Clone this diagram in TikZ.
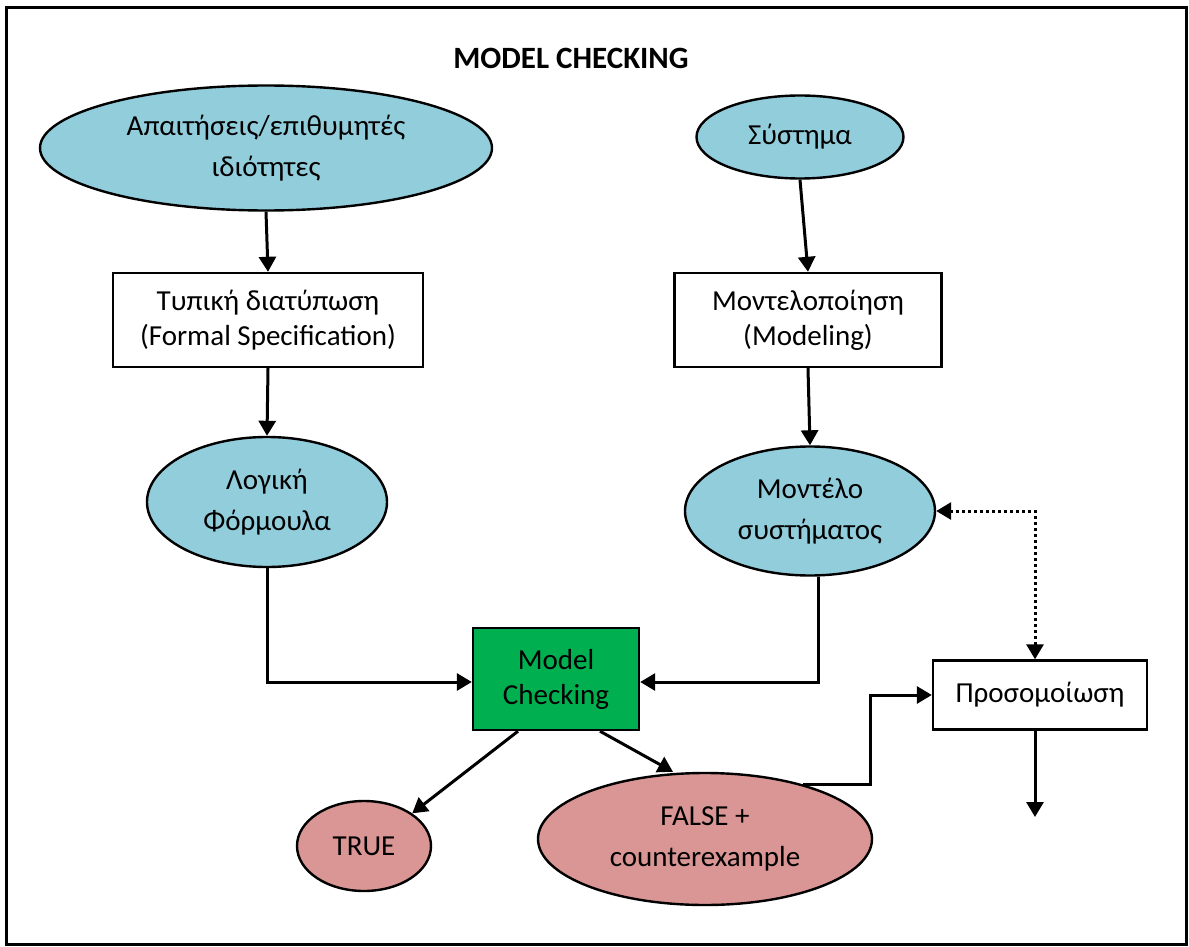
\documentclass[tikz,border=0pt]{standalone}
\usepackage{fontspec}
\setmainfont{Carlito}
\usepackage{xcolor}
\usetikzlibrary {arrows.meta,shapes.geometric}
\definecolor{skyfill}{HTML}{92CDDC}
\definecolor{rosefill}{HTML}{D99694}
\definecolor{mcgreen}{HTML}{00B050}
\newcommand{\ovalfont}{\fontsize{14.5}{20.5}\selectfont}
\newcommand{\boxfont}{\fontsize{14.5}{17.5}\selectfont}
\newcommand{\headfont}{\fontsize{15.5}{18}\selectfont\bfseries}
\tikzset{%
   oval/.style={
      ellipse,
      draw=black,
      line width=1.2pt,
      inner sep=0pt,
      align=center,
      font=\ovalfont
   },
   blue/.style={
      oval,
      fill=skyfill
   },
   rose/.style={
      oval,
      fill=rosefill
   },
   pbox/.style={
      rectangle,
      draw=black,
      line width=1.2pt,
      inner sep=0pt,
      align=center,
      font=\boxfont
   },
   arr/.style={
      line width=1.5pt,
      -{Triangle[length=7.5pt,width=8.5pt]}
   },
   dotarr/.style={
      line width=1.5pt,
      dash pattern=on 1.5pt off 1.5pt,
      {Triangle[length=7.5pt,width=8.5pt]}-{Triangle[length=7.5pt,width=8.5pt]}
   },
}
\begin{document}
\begin{tikzpicture}[x=0.5pt, y=-0.5pt]
   \useasboundingbox (0,0) rectangle (1189,947);
   \draw[line width=1.5pt] (6,8) rectangle (1186,944);
   \node[font=\headfont] (head) at (571,58) {MODEL CHECKING};
   % left column
   \node[blue, minimum width=226pt, minimum height=62.5pt] (req) at (266,148) {Απαιτήσεις/επιθυμητές\\ιδιότητες};
   \node[pbox, minimum width=155pt, minimum height=47pt] (spec) at (268,320) {Τυπική διατύπωση\\(Formal Specification)};
   \node[blue, minimum width=120pt, minimum height=65pt] (logic) at (267,502) {Λογική\\Φόρμουλα};
   % right column
   \node[blue, minimum width=103.5pt, minimum height=41.5pt] (sys) at (800,137) {Σύστημα};
   \node[pbox, minimum width=133.5pt, minimum height=47pt] (model) at (808,320) {Μοντελοποίηση\\(Modeling)};
   \node[blue, minimum width=125pt, minimum height=64.5pt] (msys) at (810,511) {Μοντέλο\\συστήματος};
   % checker and results
   \node[pbox, fill=mcgreen, minimum width=83pt, minimum height=51pt] (mc) at (556,679) {Model\\Checking};
   \node[rose, minimum width=67pt, minimum height=45pt] (yes) at (364,846) {TRUE};
   \node[rose, minimum width=167pt, minimum height=66pt] (no) at (705,839) {FALSE +\\counterexample};
   \node[pbox, minimum width=107pt, minimum height=34.5pt] (sim) at (1040,695) {Προσομοίωση};
   \coordinate (simout) at (1035,817);
   % connectors
   \draw[arr] (req.south) -- (spec.north);
   \draw[arr] (spec.south) -- (logic.north);
   \draw[arr] (sys.south) -- (model.north);
   \draw[arr] (model.south) -- (msys.north);
   \draw[arr] (logic.south) |- ([yshift=-1.5pt]mc.west);
   \draw[arr] ([xshift=4pt]msys.south) |- ([yshift=-1.5pt]mc.east);
   \draw[arr] ([xshift=-19pt]mc.south) -- (yes.north east);
   \draw[arr] ([xshift=22pt]mc.south) -- ([xshift=-16pt]no.north);
   \draw[arr] (no.29) -- ++(67,0) |- (sim.west);
   \draw[dotarr] (msys.east) -| ([xshift=-2.5pt]sim.north);
   \draw[arr] ([xshift=-2.5pt]sim.south) -- (simout);
\end{tikzpicture}
\end{document}
